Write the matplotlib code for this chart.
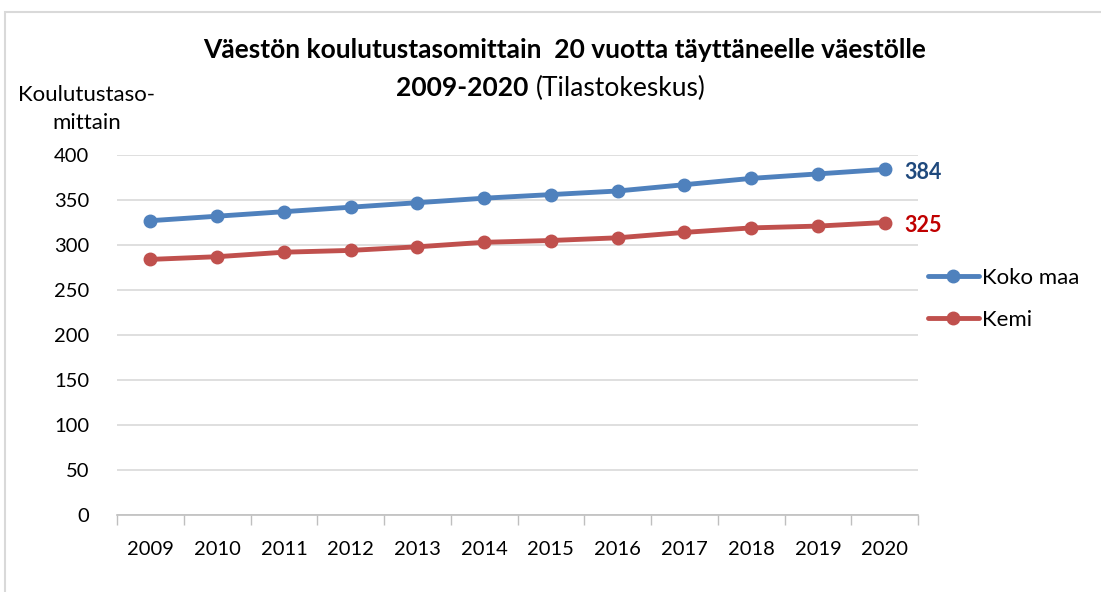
import matplotlib.pyplot as plt
from matplotlib.patches import Rectangle

years = ['2009', '2010', '2011', '2012', '2013', '2014',
         '2015', '2016', '2017', '2018', '2019', '2020']
koko_maa = [327, 332, 337, 342, 347, 352, 356, 360, 367, 374, 379, 384]
kemi = [284, 287, 292, 294, 298, 303, 305, 308, 314, 319, 321, 325]
y_ticks = [0, 50, 100, 150, 200, 250, 300, 350, 400]


def main():
    plt.rcParams['font.family'] = ['Lato', 'DejaVu Sans']
    fig = plt.figure(figsize=(11.01, 5.92), dpi=100)
    ax = fig.add_axes([117 / 1101, 1 - 515 / 592, (918 - 117) / 1101, (515 - 155) / 592])

    x = list(range(len(years)))
    ax.plot(x, koko_maa, color='#4F81BD', lw=3.5, marker='o', ms=9, label='Koko maa',
            solid_capstyle='round', zorder=3)
    ax.plot(x, kemi, color='#C0504D', lw=3.5, marker='o', ms=9, label='Kemi',
            solid_capstyle='round', zorder=3)

    # data labels, nudged a few px down like the original
    ax.annotate(str(koko_maa[-1]), (x[-1], koko_maa[-1]), xytext=(14.5, -2),
                textcoords='offset points', color='#1F497D',
                fontsize=15.5, fontweight='bold', va='center', ha='left')
    ax.annotate(str(kemi[-1]), (x[-1], kemi[-1]), xytext=(14.5, -2),
                textcoords='offset points', color='#C00000',
                fontsize=15.5, fontweight='bold', va='center', ha='left')

    ax.set_xlim(-0.5, len(years) - 0.5)
    ax.set_ylim(0, 400)
    ax.set_yticks(y_ticks)
    ax.set_xticks(x)
    ax.set_xticklabels(years)
    ax.set_xticks([i - 0.5 for i in range(len(years) + 1)], minor=True)
    ax.tick_params(axis='x', which='major', length=0, pad=19, labelsize=14.5, colors='#000000')
    ax.tick_params(axis='x', which='minor', length=7, color='#BFBFBF', width=1)
    ax.tick_params(axis='y', length=0, pad=20, labelsize=14.5)
    ax.grid(axis='y', color='#D9D9D9', lw=1.2)
    ax.set_axisbelow(True)
    for s in ['left', 'right', 'top']:
        ax.spines[s].set_visible(False)
    ax.spines['bottom'].set_color('#BFBFBF')
    ax.spines['bottom'].set_linewidth(1.2)

    fig.text(565 / 1101, 1 - 50 / 592,
             'Väestön koulutustasomittain  20 vuotta täyttäneelle väestölle',
             ha='center', va='center', fontsize=19, fontweight='bold')
    fig.text(528 / 1101, 1 - 88 / 592, '2009-2020', ha='right', va='center',
             fontsize=19, fontweight='bold')
    fig.text(536 / 1101, 1 - 88 / 592, '(Tilastokeskus)', ha='left', va='center',
             fontsize=19)
    fig.text(87 / 1101, 1 - 109 / 592, 'Koulutustaso-\nmittain', ha='center',
             va='center', fontsize=16, linespacing=1.45)

    ax.legend(loc='center left', bbox_to_anchor=(1.012, 0.6), frameon=False,
              borderaxespad=0, borderpad=0,
              fontsize=16, handlelength=2.3, handletextpad=0.15, labelspacing=1.0)

    fig.patches.append(Rectangle((5 / 1101, -0.05), 1.2, 1 - 12 / 592 + 0.05,
                                 transform=fig.transFigure, fill=False,
                                 edgecolor='#D9D9D9', lw=1.5))

    fig.savefig('out.png', dpi=100)


if __name__ == '__main__':
    main()
